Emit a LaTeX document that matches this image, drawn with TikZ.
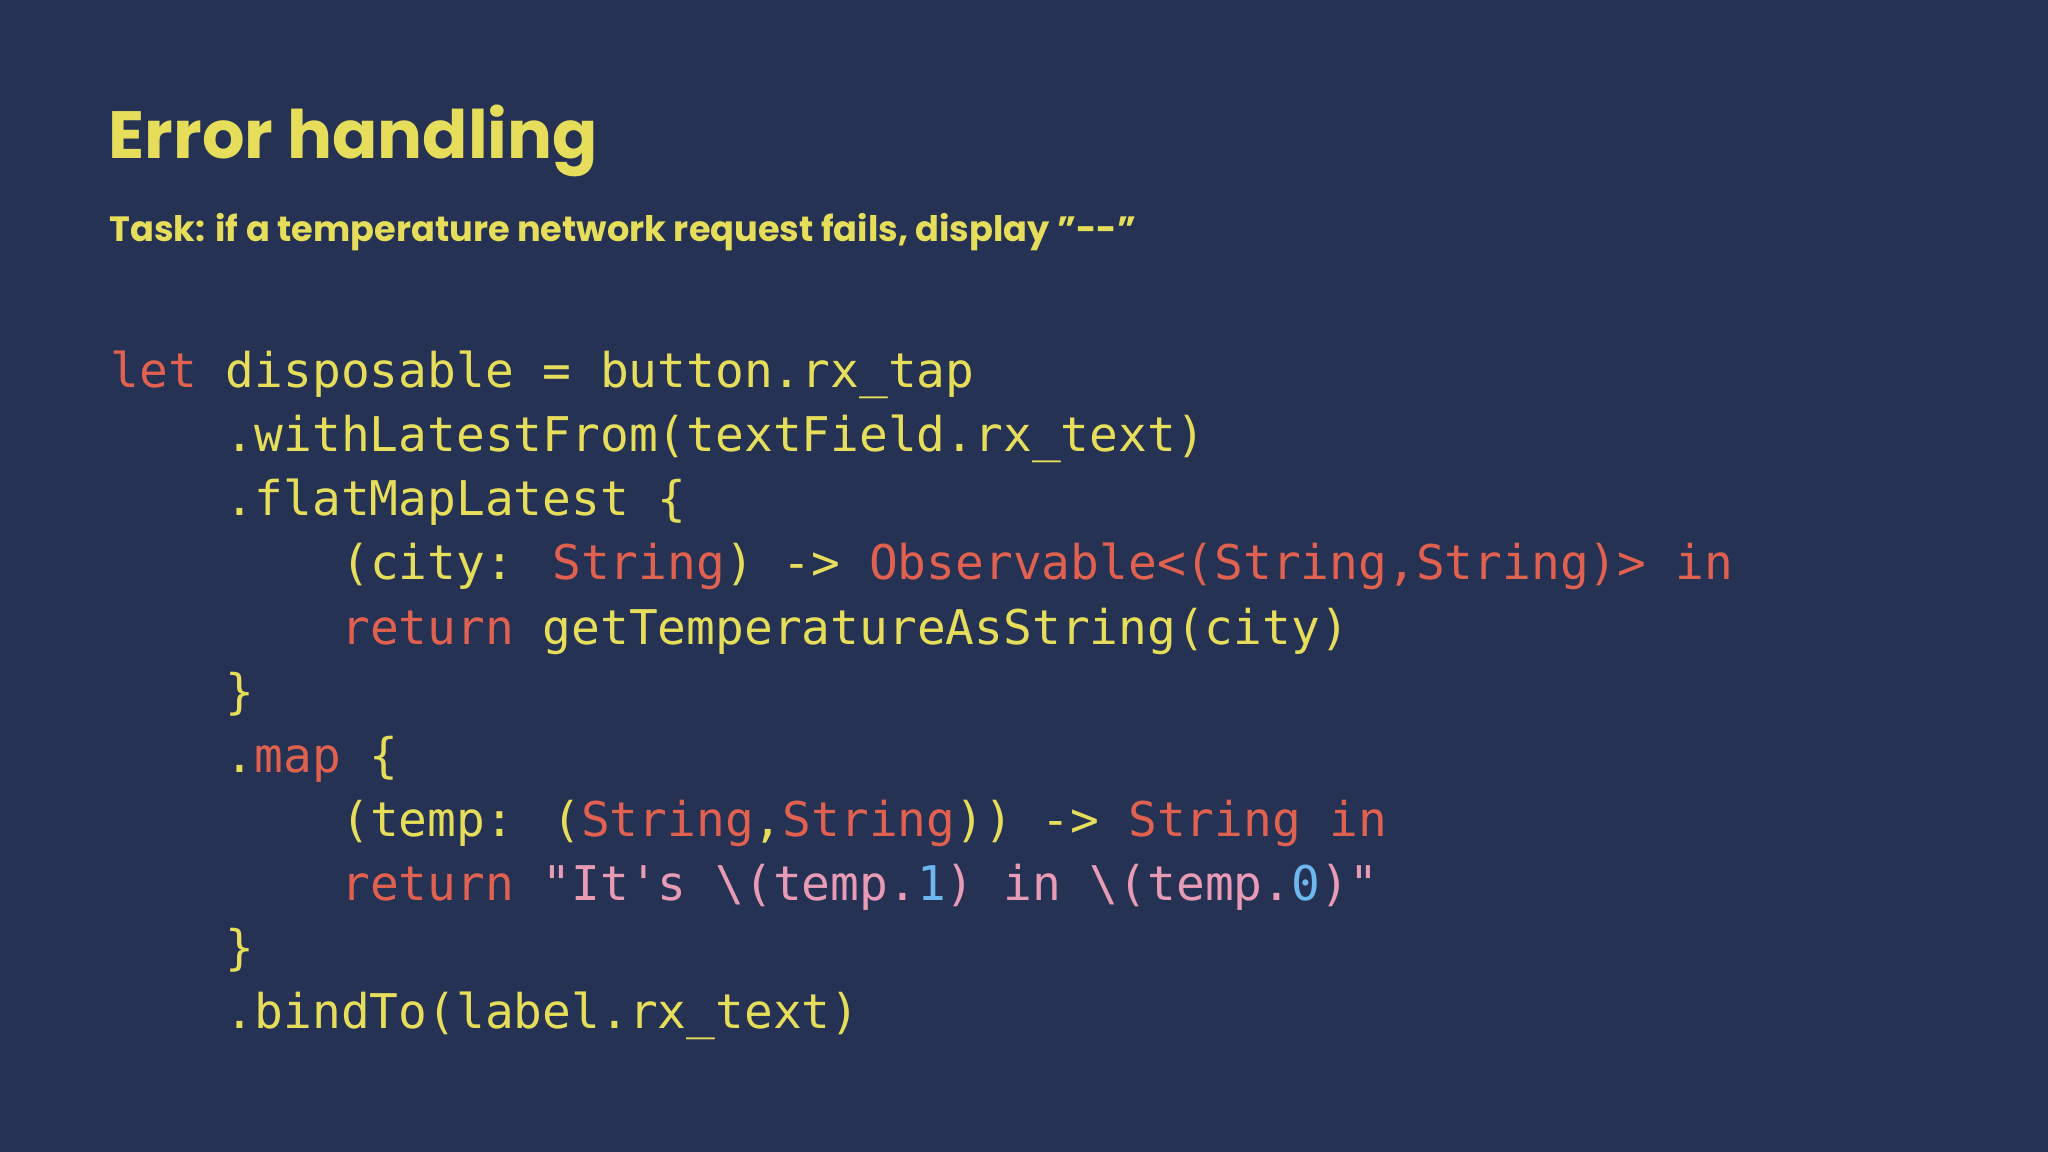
\documentclass[tikz,border=0pt]{standalone}
\usepackage{fontspec}
\setmainfont{Poppins}
\newfontfamily\codefont{DejaVu Sans Mono}
\definecolor{bg}{HTML}{253253}
\definecolor{cy}{HTML}{E6DE5A}
\definecolor{cr}{HTML}{E0614F}
\definecolor{cp}{HTML}{E89BB5}
\definecolor{cb}{HTML}{6DB8F0}
\begin{document}
\begin{tikzpicture}[x=0.01cm,y=-0.01cm,
  code/.style={anchor=base west,inner sep=0pt,text=cy,font=\codefont\fontsize{13.6}{16}\selectfont}]
\fill[bg] (0,0) rectangle (2048,1152);
\useasboundingbox (0,0) rectangle (2048,1152);
\node[anchor=base west,inner sep=0pt,text=cy,font=\bfseries\fontsize{19}{22}\selectfont] (title) at (108,159) {Error handling};
\node[anchor=base west,inner sep=0pt,text=cy,font=\bfseries\fontsize{10}{12}\selectfont] (sub) at (109,242) {Task: if a temperature network request fails, display "-{}-"};
\def\tab{\hspace*{1.152cm}}
\node[code] (l1) at (110,388) {\textcolor{cr}{let} disposable = button.rx\_tap};
\node[code] (l2) at (110,452) {\tab.withLatestFrom(textField.rx\_text)};
\node[code] (l3) at (110,516) {\tab.flatMapLatest \{};
\node[code] (l4) at (110,580) {\tab\tab(city: \textcolor{cr}{String}) -> \textcolor{cr}{Observable<(String,String)> in}};
\node[code] (l5) at (110,644) {\tab\tab\textcolor{cr}{return} getTemperatureAsString(city)};
\node[code] (l6) at (110,708) {\tab\}};
\node[code] (l7) at (110,772) {\tab.\textcolor{cr}{map} \{};
\node[code] (l8) at (110,836) {\tab\tab(temp: (\textcolor{cr}{String},\textcolor{cr}{String})) -> \textcolor{cr}{String in}};
\node[code] (l9) at (110,900) {\tab\tab\textcolor{cr}{return} \textcolor{cp}{"It's \textbackslash(temp.\textcolor{cb}{1}) in \textbackslash(temp.\textcolor{cb}{0})"}};
\node[code] (l10) at (110,964) {\tab\}};
\node[code] (l11) at (110,1028) {\tab.bindTo(label.rx\_text)};
\end{tikzpicture}
\end{document}
